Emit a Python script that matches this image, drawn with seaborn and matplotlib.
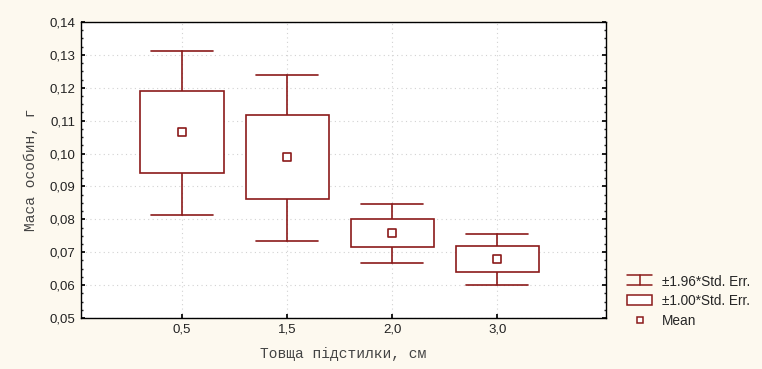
import matplotlib
matplotlib.use("Agg")
import matplotlib.pyplot as plt
import seaborn as sns
import numpy as np
import pandas as pd
from matplotlib.patches import Rectangle
from matplotlib.lines import Line2D
from matplotlib.legend_handler import HandlerBase
from matplotlib.ticker import MultipleLocator, FixedLocator

categories = ["0,5", "1,5", "2,0", "3,0"]
means = [0.1066, 0.0990, 0.0759, 0.0680]
box_low = [0.0940, 0.0863, 0.0715, 0.0640]
box_high = [0.1190, 0.1116, 0.0802, 0.0718]
whisk_low = [0.0813, 0.0735, 0.0668, 0.0600]
whisk_high = [0.1312, 0.1240, 0.0848, 0.0756]
y_ticks = [0.05, 0.06, 0.07, 0.08, 0.09, 0.10, 0.11, 0.12, 0.13, 0.14]

df = pd.DataFrame({"pos": np.arange(1, len(categories) + 1), "cat": categories,
                   "mean": means, "blo": box_low, "bhi": box_high,
                   "wlo": whisk_low, "whi": whisk_high})

sns.set_theme(style="white")
plt.rcParams['font.family'] = ['Liberation Sans', 'DejaVu Sans']

RED = "#8B1A1A"
BG = "#FDF9EF"

fig = plt.figure(figsize=(7.62, 3.69), dpi=100, facecolor=BG)
ax = fig.add_axes([0.1063, 0.1382, 0.6887, 0.8022])
ax.set_facecolor("white")

bw = 0.79
cw = 0.59
for _, r in df.iterrows():
    ax.plot([r.pos, r.pos], [r.bhi, r.whi], color=RED, lw=1.2, zorder=3)
    ax.plot([r.pos, r.pos], [r.wlo, r.blo], color=RED, lw=1.2, zorder=3)
    ax.plot([r.pos - cw / 2, r.pos + cw / 2], [r.whi, r.whi], color=RED, lw=1.2, zorder=3)
    ax.plot([r.pos - cw / 2, r.pos + cw / 2], [r.wlo, r.wlo], color=RED, lw=1.2, zorder=3)
    ax.add_patch(Rectangle((r.pos - bw / 2, r.blo), bw, r.bhi - r.blo,
                           facecolor="white", edgecolor=RED, lw=1.2, zorder=3))

sns.scatterplot(data=df, x="pos", y="mean", ax=ax, marker="s", s=28,
                facecolor="white", edgecolor=RED, linewidth=1.2, zorder=4, legend=False)

ax.set_xlim(0.04, 5.03)
ax.set_ylim(0.05, 0.14)
ax.xaxis.set_major_locator(FixedLocator(df["pos"].tolist()))
ax.set_xticklabels(categories)
ax.set_yticks(y_ticks)
ax.set_yticklabels([f"{v:.2f}".replace(".", ",") for v in y_ticks])
ax.yaxis.set_minor_locator(MultipleLocator(0.0025))
ax.grid(True, which="major", color="#d2d2d2", linestyle=(0, (1, 3)), lw=0.8)
ax.set_axisbelow(True)
for s in ax.spines.values():
    s.set_color("black")
    s.set_linewidth(1.0)
ax.tick_params(axis="both", which="major", direction="in", length=3, labelsize=9.5,
               colors="black", left=True, right=True, bottom=True, top=False, pad=4)
ax.tick_params(axis="y", which="minor", direction="in", length=1.5, left=True, right=True)
for lbl in ax.get_xticklabels() + ax.get_yticklabels():
    lbl.set_color("#222222")

ax.set_xlabel("Товща підстилки, см", fontfamily=["Liberation Mono", "DejaVu Sans Mono"],
              fontsize=10.5, color="#444444", labelpad=8)
ax.set_ylabel("Маса особин, г", fontfamily=["Liberation Mono", "DejaVu Sans Mono"],
              fontsize=10.5, color="#444444", labelpad=8)


class WhiskerHandler(HandlerBase):
    def create_artists(self, legend, orig, xd, yd, w, h, fontsize, trans):
        cx = xd + w / 2
        y0 = yd + h * 0.0
        y1 = yd + h * 1.0
        a = Line2D([xd, xd + w], [y1, y1], color=RED, lw=1.1, transform=trans)
        b = Line2D([xd, xd + w], [y0, y0], color=RED, lw=1.1, transform=trans)
        c = Line2D([cx, cx], [y0, y1], color=RED, lw=1.1, transform=trans)
        return [a, b, c]


class BoxHandler(HandlerBase):
    def create_artists(self, legend, orig, xd, yd, w, h, fontsize, trans):
        r = Rectangle((xd, yd + h * 0.0), w, h * 1.0, facecolor="white",
                      edgecolor=RED, lw=1.1, transform=trans)
        return [r]


h_wh = Line2D([], [])
h_box = Rectangle((0, 0), 1, 1)
h_mean = Line2D([], [], marker="s", ls="none", markersize=5, markerfacecolor="white",
                markeredgecolor=RED, markeredgewidth=1.1)
fig.legend([h_wh, h_box, h_mean], ["±1.96*Std. Err.", "±1.00*Std. Err.", "Mean"],
           handler_map={h_wh: WhiskerHandler(), h_box: BoxHandler()},
           loc="upper left", bbox_to_anchor=(0.823, 0.256), frameon=False,
           fontsize=9.8, handlelength=1.85, handleheight=0.75, labelspacing=0.42,
           handletextpad=0.7, borderaxespad=0, borderpad=0)

fig.savefig("out.png", dpi=100, facecolor=BG)
